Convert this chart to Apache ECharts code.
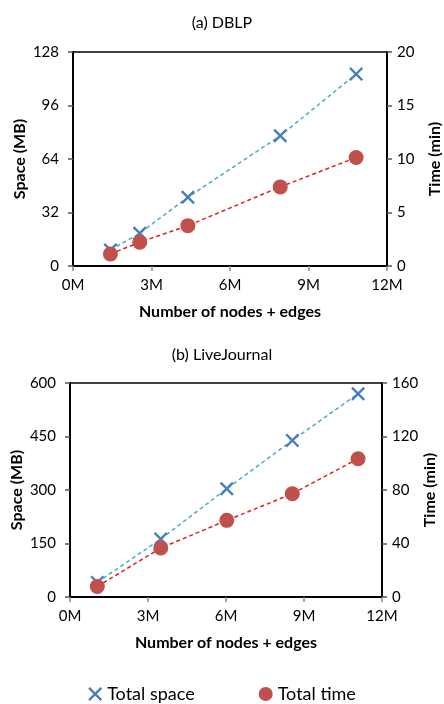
<!DOCTYPE html>
<html>
<head>
<meta charset="utf-8">
<script src="https://cdn.jsdelivr.net/npm/echarts@6/dist/echarts.min.js"></script>
<style>
  html, body { margin: 0; padding: 0; background: #fff; }
  #chart { width: 444px; height: 704px; }
</style>
</head>
<body>
<div id="chart"></div>
<script>
// Graph size (millions of nodes + edges), space (MB) and time (min)
const dblpSize = [1.43, 2.55, 4.39, 7.92, 10.82];
const dblpSpace = [9.6, 19.6, 41.1, 77.9, 114.8];
const dblpTime = [1.12, 2.22, 3.77, 7.39, 10.14];

const ljSize = [1.05, 3.49, 6.03, 8.55, 11.08];
const ljSpace = [41, 162.6, 303.6, 439, 570];
const ljTime = [7.9, 36.6, 57.3, 77.2, 103.4];

const titles = ['(a) DBLP', '(b) LiveJournal'];
const seriesNames = ['Total space', 'Total time'];

const FONT = 'Lato';
const crossPath = 'path://M0,1.2L1.2,0L5,3.8L8.8,0L10,1.2L6.2,5L10,8.8L8.8,10L5,6.2L1.2,10L0,8.8L3.8,5Z';

function pairs(xs, ys) { return xs.map((x, i) => [x, ys[i]]); }

function xAxisFor(gridIndex) {
  return {
    type: 'value', gridIndex, min: 0, max: 12, interval: 3,
    name: 'Number of nodes + edges', nameLocation: 'middle', nameGap: 38, nameMoveOverlap: false,
    nameTextStyle: { fontFamily: FONT, fontWeight: 'bold', fontSize: 16, color: '#000' },
    axisLine: { show: true, onZero: false, lineStyle: { color: '#000', width: 2 } },
    axisTick: { show: true, inside: false, length: 5, lineStyle: { color: '#888', width: 1.5 } },
    axisLabel: { fontFamily: FONT, fontSize: 15, color: '#000', margin: 12, formatter: v => v + 'M' },
    splitLine: { show: false }
  };
}

function yAxisFor(gridIndex, position, max, interval, name) {
  return {
    type: 'value', gridIndex, position, min: 0, max, interval,
    name, nameLocation: 'middle', nameGap: position === 'left' ? 45 : 40, nameMoveOverlap: false,
    nameTextStyle: { fontFamily: FONT, fontWeight: 'bold', fontSize: 16, color: '#000' },
    axisLine: { show: true, onZero: false, lineStyle: { color: '#000', width: 2 } },
    axisTick: { show: true, inside: false, length: 5, lineStyle: { color: '#555', width: 1.5 } },
    axisLabel: { fontFamily: FONT, fontSize: 15, color: '#000', margin: position === 'left' ? 14 : 10 },
    splitLine: { show: false }
  };
}

function spaceSeries(xi, yi, data) {
  return {
    name: seriesNames[0], type: 'line', xAxisIndex: xi, yAxisIndex: yi,
    data, symbol: crossPath, symbolSize: 14, showAllSymbol: true,
    itemStyle: { color: '#4a7ebb' },
    lineStyle: { color: '#4bacc6', width: 1.5, type: [4, 3] },
    z: 2
  };
}

function timeSeries(xi, yi, data) {
  return {
    name: seriesNames[1], type: 'line', xAxisIndex: xi, yAxisIndex: yi,
    data, symbol: 'circle', symbolSize: 15,
    itemStyle: { color: '#c0504d' },
    lineStyle: { color: '#e0201c', width: 1.5, type: [4, 3] },
    z: 3
  };
}

const chart = echarts.init(document.getElementById('chart'), null, { renderer: 'canvas' });

const gridBase = { show: true, borderColor: '#000', borderWidth: 1.5, backgroundColor: 'transparent', outerBoundsMode: 'none', containLabel: false };

chart.setOption({
  backgroundColor: '#fff',
  animation: false,
  title: [
    { text: titles[0], left: 'center', top: 10, textStyle: { fontFamily: FONT, fontSize: 16, fontWeight: 'normal', color: '#000' } },
    { text: titles[1], left: 'center', top: 342, textStyle: { fontFamily: FONT, fontSize: 16, fontWeight: 'normal', color: '#000' } }
  ],
  grid: [
    Object.assign({ left: 73, top: 52, width: 314, height: 214 }, gridBase),
    Object.assign({ left: 70, top: 383, width: 312, height: 214 }, gridBase)
  ],
  xAxis: [xAxisFor(0), xAxisFor(1)],
  yAxis: [
    yAxisFor(0, 'left', 128, 32, 'Space (MB)'),
    yAxisFor(0, 'right', 20, 5, 'Time (min)'),
    yAxisFor(1, 'left', 600, 150, 'Space (MB)'),
    yAxisFor(1, 'right', 160, 40, 'Time (min)')
  ],
  legend: {
    top: 680, left: 'center', itemGap: 64, itemWidth: 14, itemHeight: 14,
    textStyle: { fontFamily: FONT, fontSize: 18, color: '#000' },
    data: [
      { name: seriesNames[0], icon: crossPath, itemStyle: { color: '#4a7ebb' } },
      { name: seriesNames[1], icon: 'circle', itemStyle: { color: '#c0504d' } }
    ]
  },
  series: [
    spaceSeries(0, 0, pairs(dblpSize, dblpSpace)),
    timeSeries(0, 1, pairs(dblpSize, dblpTime)),
    spaceSeries(1, 2, pairs(ljSize, ljSpace)),
    timeSeries(1, 3, pairs(ljSize, ljTime))
  ]
});
</script>
</body>
</html>
